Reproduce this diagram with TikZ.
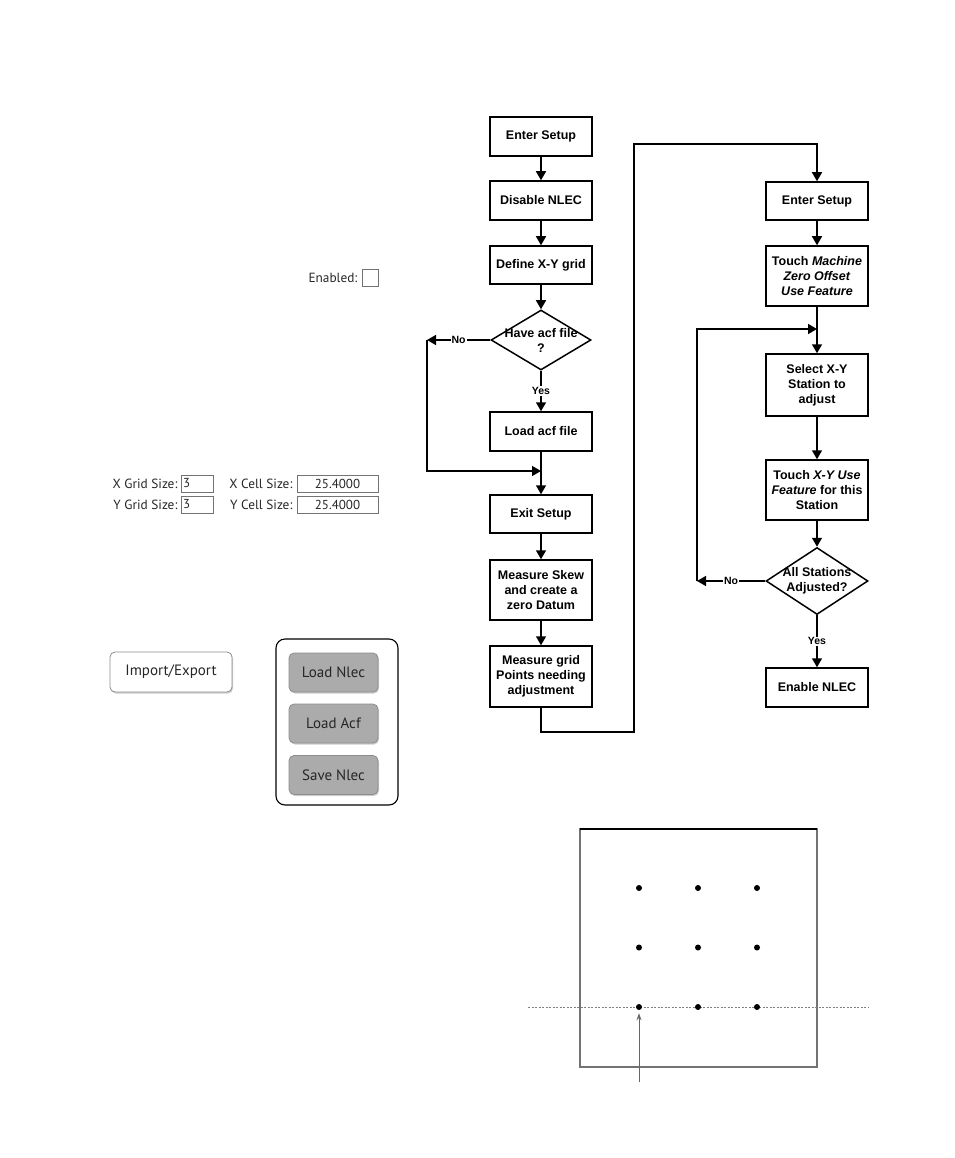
\documentclass[tikz,border=0pt]{standalone}
\usepackage{fontspec}
\setmainfont{Liberation Sans}
\newfontfamily\uifont{PT Sans}
\usetikzlibrary{shapes.geometric,arrows.meta,positioning,calc,shadows}

\tikzset{
  stepbox/.style={draw, line width=1.5pt, minimum width=102pt, align=center,
    inner sep=2pt, font=\fontsize{12.5}{15}\selectfont\bfseries},
  decision/.style={draw, diamond, line width=1.5pt, inner sep=0pt},
  dtext/.style={align=center, font=\fontsize{12.5}{15}\selectfont\bfseries},
  flow/.style={line width=1.5pt, -{Triangle[width=10pt,length=9pt]}},
  answer/.style={fill=white, inner sep=1pt, font=\fontsize{10.5}{12}\selectfont\bfseries},
  uitext/.style={inner sep=0pt, font=\uifont\fontsize{13.3}{15}\selectfont, text=black!85},
  field/.style={draw=black!55, line width=0.8pt, minimum height=17pt, inner sep=2pt,
    font=\uifont\fontsize{13}{15}\selectfont, text=black!85},
  button/.style={draw=black!45, line width=0.8pt, rounded corners=5pt, minimum width=89pt,
    minimum height=39pt, fill=black!33, drop shadow={shadow xshift=1pt, shadow yshift=-1.5pt, opacity=0.4},
    font=\uifont\fontsize{15}{17}\selectfont, text=black!85},
  gridpt/.style={circle, fill=black, inner sep=0pt, minimum size=6pt},
}

\begin{document}
\begin{tikzpicture}[x=1pt, y=-1pt]
    \useasboundingbox (0,0) rectangle (954,1158);

    % first column
    \node[stepbox, minimum height=39pt] (enter1) at (541,136.5) {Enter Setup};
    \node[stepbox, minimum height=39pt] (disable) at (541,200.5) {Disable NLEC};
    \node[stepbox, minimum height=38pt] (define) at (541,265) {Define X-Y grid};
    \node[decision, minimum width=100pt, minimum height=60pt] (acf) at (541,340) {};
    \node[dtext] at (acf) {Have acf file\\?};
    \node[stepbox, minimum height=39pt] (loadacf) at (541,431.5) {Load acf file};
    \node[stepbox, minimum height=38pt] (exit) at (541,514) {Exit Setup};
    \node[stepbox, minimum height=60pt] (skew) at (541,590) {Measure Skew\\and create a\\zero Datum};
    \node[stepbox, minimum height=61pt] (mgrid) at (541,676.5) {Measure grid\\Points needing\\adjustment};

    % second column
    \node[stepbox, minimum height=38pt] (enter2) at (817,201) {Enter Setup};
    \node[stepbox, minimum height=60pt] (touchmz) at (817,276) {Touch \textit{Machine}\\\textit{Zero Offset}\\\textit{Use Feature}};
    \node[stepbox, minimum height=62pt] (select) at (817,385) {Select X-Y\\Station to\\adjust};
    \node[stepbox, minimum height=60pt] (touchxy) at (817,490) {Touch \textit{X-Y Use}\\\textit{Feature} for this\\Station};
    \node[decision, minimum width=102pt, minimum height=67pt] (alladj) at (817,581) {};
    \node[dtext] at (alladj) {All Stations\\Adjusted?};
    \node[stepbox, minimum height=39pt] (enable) at (817,687.5) {Enable NLEC};

    % turning points
    \coordinate (acfno) at (427,340);
    \coordinate (acfjoin) at (541,471);
    \coordinate (lowturn) at (634,732);
    \coordinate (topturn) at (634,144);
    \coordinate (stno) at (697,581);
    \coordinate (stjoin) at (817,329);

    % connectors
    \draw[flow] (enter1) -- (disable);
    \draw[flow] (disable) -- (define);
    \draw[flow] (define) -- (acf);
    \draw[flow] (acf.west) -- node[answer] {No} (acfno);
    \draw[flow] (acfno) |- (acfjoin);
    \draw[flow] (acf.south) -- node[answer] {Yes} (loadacf.north);
    \draw[flow] (loadacf) -- (exit);
    \draw[flow] (exit) -- (skew);
    \draw[flow] (skew) -- (mgrid);
    \draw[flow] (mgrid.south) |- (lowturn) -- (topturn) -| (enter2.north);
    \draw[flow] (enter2) -- (touchmz);
    \draw[flow] (touchmz) -- (select);
    \draw[flow] (select) -- (touchxy);
    \draw[flow] (touchxy) -- (alladj);
    \draw[flow] (alladj.west) -- node[answer] {No} (stno);
    \draw[flow] (stno) |- (stjoin);
    \draw[flow] (alladj.south) -- node[answer] {Yes} (enable.north);

    % setup dialog parts
    \node[field, minimum width=16pt] (enabled) at (370,277.5) {};
    \node[uitext, left=4pt of enabled] {Enabled:};

    \node[field, text width=28pt, align=left] (xgs) at (197,483.5) {3};
    \node[field, text width=28pt, align=left] (ygs) at (197,504.5) {3};
    \node[uitext, left=3pt of xgs] {X Grid Size:};
    \node[uitext, left=3pt of ygs] {Y Grid Size:};
    \node[field, minimum width=81pt] (xcs) at (337.5,483.5) {25.4000};
    \node[field, minimum width=81pt] (ycs) at (337.5,504.5) {25.4000};
    \node[uitext, left=4pt of xcs] {X Cell Size:};
    \node[uitext, left=4pt of ycs] {Y Cell Size:};

    \node[button, fill=white, minimum width=122pt, minimum height=40pt] (impexp) at (171,672) {Import/Export};
    \node[draw, line width=1.1pt, rounded corners=9pt, minimum width=122pt, minimum height=166pt] (panel) at (337,722) {};
    \node[button] (loadnlec) at (333.5,672.5) {Load Nlec};
    \node[button] (loadacfb) at (333.5,723.5) {Load Acf};
    \node[button] (savenlec) at (333.5,775) {Save Nlec};

    % grid of stations
    \draw[black!55, line width=1.2pt] (580,829) rectangle (817,1067);
    \draw[black, line width=1.2pt] (580,829) -- (817,829);
    \draw[black!50, line width=0.8pt, dash pattern=on 2pt off 1.5pt] (528,1007) -- (868,1007);
    \foreach \i in {0,1,2} {
      \foreach \j in {0,1,2} {
        \node[gridpt] (p\i\j) at (639+59*\i,888+59.5*\j) {};
      }
    }
    \coordinate (foot) at (639,1082);
    \draw[black!60, line width=0.9pt, -{Stealth[length=7pt,width=5pt]}, shorten >=3pt] (foot) -- (p02.south);

\end{tikzpicture}
\end{document}
